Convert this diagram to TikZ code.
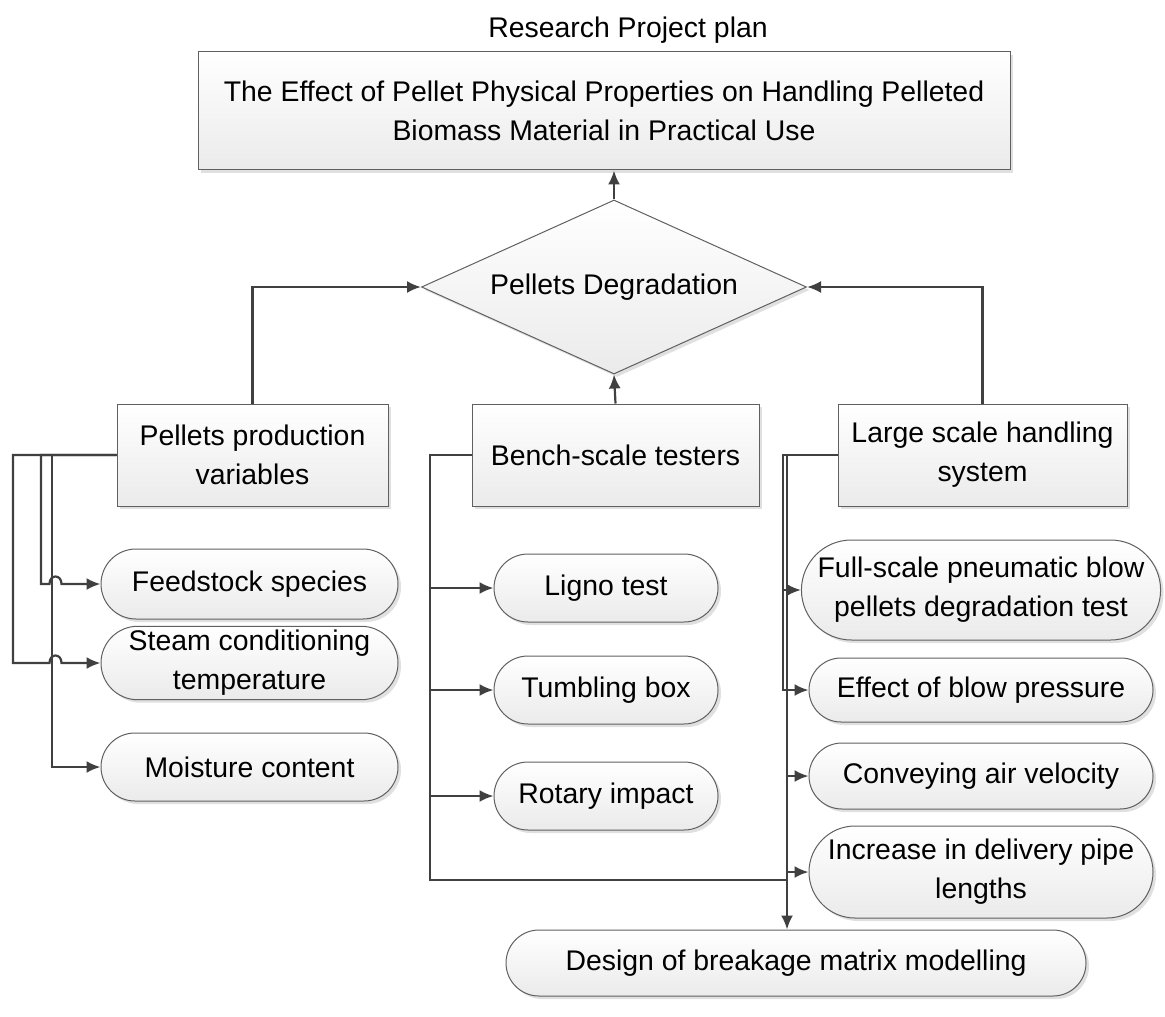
\documentclass[tikz,border=0pt]{standalone}
\usepackage{fontspec}
\setmainfont{Liberation Sans}
\usetikzlibrary{shapes.geometric,shapes.misc,shadows,arrows.meta}
\definecolor{linegray}{RGB}{64,64,64}
\definecolor{edgegray}{RGB}{96,96,96}

\begin{document}
\begin{tikzpicture}[x=0.5pt,y=-0.5pt,font=\fontsize{14.2}{19.5}\selectfont,
	boxed/.style={draw=edgegray,line width=0.5pt,top color=white,bottom color=black!8,
		drop shadow={shadow xshift=1.5pt,shadow yshift=-1.5pt,fill=black!12,opacity=1},
		align=center,inner sep=2pt},
	block/.style={boxed,rectangle,minimum width=#1,minimum height=51pt},
	pill/.style={boxed,rounded rectangle,minimum width=#1},
	line/.style={draw=linegray,line width=1.1pt},
	link/.style={line,-{Latex[length=7pt,width=6pt]}}]
			\useasboundingbox (0,0) rectangle (1165,1016);
			\node (title) at (628,30) {Research Project plan};
			\node[boxed,minimum width=406pt,minimum height=59pt] (plan) at (604,111)
				{The Effect of Pellet Physical Properties on Handling Pelleted\\Biomass Material in Practical Use};
			\node[boxed,diamond,aspect=2.2,inner sep=0pt,minimum width=192.5pt,minimum height=87pt] (degrade) at (614,287) {Pellets Degradation};
			\node[block=135.5pt] (prod) at (252.5,455) {Pellets production\\variables};
			\node[block=143.5pt] (bench) at (615.5,455) {Bench-scale testers};
			\node[block=144.5pt] (large) at (982.5,455) {Large scale handling\\system};
			\node[pill=152.5pt,minimum height=35pt] (feed) at (249.5,584) {Feedstock species};
			\node[pill=152.5pt,minimum height=35pt] (steam) at (249.5,663) {Steam conditioning\\temperature};
			\node[pill=152.5pt,minimum height=34pt] (moist) at (249.5,767) {Moisture content};
			\node[pill=116pt,minimum height=34pt] (ligno) at (606,588) {Ligno test};
			\node[pill=116pt,minimum height=34pt] (tumble) at (606,690) {Tumbling box};
			\node[pill=116pt,minimum height=34pt] (rotary) at (606,796) {Rotary impact};
			\node[pill=176pt,minimum height=50pt] (fullscale) at (981,590) {Full-scale pneumatic blow\\pellets degradation test};
			\node[pill=176pt,minimum height=32pt] (pressure) at (981,690) {Effect of blow pressure};
			\node[pill=176pt,minimum height=33pt] (velocity) at (981,776) {Conveying air velocity};
			\node[pill=176pt,minimum height=46pt] (pipe) at (981,872) {Increase in delivery pipe\\lengths};
			\node[pill=294pt,minimum height=33pt] (matrix) at (796,963) {Design of breakage matrix modelling};
			\coordinate (sbus) at (13,455);
			\coordinate (fbus) at (41,455);
			\coordinate (mbus) at (52,455);
			\coordinate (bbus) at (430,455);
			\coordinate (rbus) at (783,455);
			\coordinate (dbus) at (787,455);
			\coordinate (bend) at (787,880);
			\draw[link] (degrade.north) -- (degrade.north |- plan.south);
			\draw[link] (bench.north) -- (degrade.south);
			\draw[link] (prod.north) |- (degrade.west);
			\draw[link] (large.north) |- (degrade.east);
			\draw[link] (prod.west) -- (mbus) |- (moist.west);
			\draw[link] (prod.west) -- (fbus) |- ([xshift=-25.5pt]feed.west)
				.. controls +(0,-10) and +(0,-10) .. ([xshift=-19.5pt]feed.west) -- (feed.west);
			\draw[link] (prod.west) -- (sbus) |- ([xshift=-25.5pt]steam.west)
				.. controls +(0,-10) and +(0,-10) .. ([xshift=-19.5pt]steam.west) -- (steam.west);
			\foreach \n in {ligno,tumble,rotary}
				\draw[link] (bench.west) -- (bbus) |- (\n.west);
			\draw[line] (bbus) |- (bend);
			\foreach \n in {fullscale,pressure}
				\draw[link] (large.west) -- (rbus) |- (\n.west);
			\foreach \n in {velocity,pipe}
				\draw[link] (large.west) -- (dbus) |- (\n.west);
			\draw[link] (dbus) -- (dbus |- matrix.north);
		\end{tikzpicture}
\end{document}
